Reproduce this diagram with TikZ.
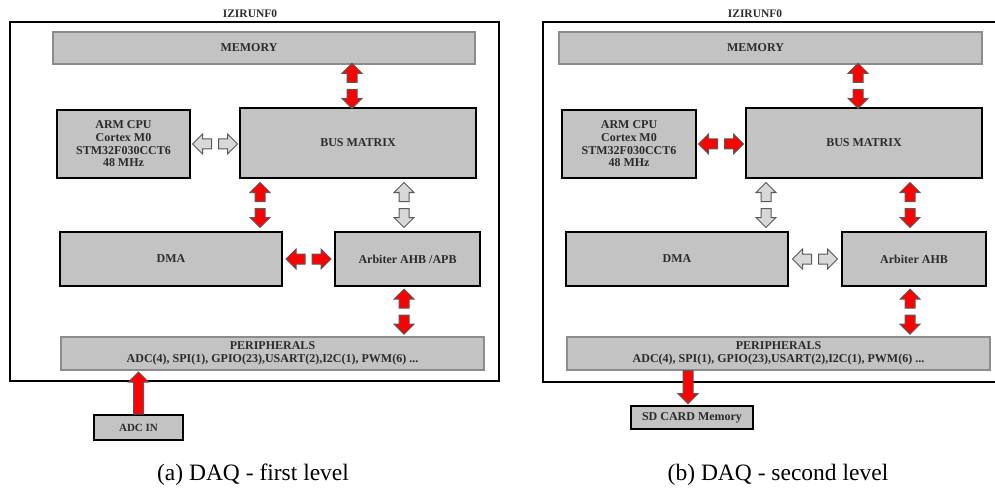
\documentclass[tikz,border=0pt]{standalone}
\usepackage{fontspec}
\setmainfont{Liberation Serif}
\usetikzlibrary{calc}
\definecolor{BoxFill}{HTML}{C3C3C3}
\definecolor{FlatEdge}{HTML}{8C8C8C}
\definecolor{ArrowEdge}{HTML}{5A5A5A}
\definecolor{BusRed}{HTML}{FF0000}
\definecolor{BusGray}{HTML}{D8D8D8}
\definecolor{LabelInk}{HTML}{2B2B2B}
\tikzset{
  every node/.style={font=\bfseries\fontsize{12}{12.7}\selectfont, text=LabelInk},
  block/.style={draw=black, line width=2pt, fill=BoxFill, inner sep=0pt, align=center},
  flatblock/.style={draw=FlatEdge, line width=1.2pt, fill=BoxFill, inner sep=0pt, align=center},
  frame/.style={draw=black, line width=2pt},
  hot/.style={fill=BusRed, draw=ArrowEdge, line width=1pt},
  cold/.style={fill=BusGray, draw=ArrowEdge, line width=1pt},
  caption/.style={font=\fontsize{23.5}{25}\selectfont, text=black},
  pics/blkarrow/.style 2 args={code={
    \draw[#1] (0,-5) -- (#2-10,-5) -- (#2-10,-10) -- (#2,0) -- (#2-10,10) -- (#2-10,5) -- (0,5) -- cycle;
  }},
}
% two block arrows back to back, the first one pointing to #2
\newcommand{\blkpair}[4]{%
  \pic[rotate=#4] at ($(#2)!0.5!(#3)!3.5pt!(#2)$) {blkarrow={#1}{19}};
  \pic[rotate=#4+180] at ($(#2)!0.5!(#3)!3.5pt!(#3)$) {blkarrow={#1}{19}};
}
\begin{document}
\begin{tikzpicture}[x=1pt,y=-1pt]
  \useasboundingbox (0,0) rectangle (995,489);

  % (a) first level
  \node[font=\bfseries\fontsize{11.5}{12}\selectfont] (tita) at (250,14) {IZIRUNF0};
  \draw[frame] (9.5,22.5) rectangle (498.5,381);
  \node[flatblock, minimum width=422, minimum height=32,
        label={[xshift=-15pt]center:MEMORY}] (mema) at (264,48) {};
  \node[block, minimum width=133, minimum height=68] (cpua) at (123.5,144)
    {ARM CPU\\Cortex M0\\STM32F030CCT6\\48 MHz};
  \node[block, minimum width=236, minimum height=70] (busa) at (358,143) {BUS MATRIX};
  \node[block, minimum width=222, minimum height=54] (dmaa) at (171,259) {DMA};
  \node[block, minimum width=145, minimum height=54] (arba) at (407.5,259) {Arbiter AHB /APB};
  \node[flatblock, minimum width=423, minimum height=33] (pera) at (272.5,353.5)
    {PERIPHERALS\\ADC(4), SPI(1), GPIO(23),USART(2),I2C(1), PWM(6) ...};
  \node[block, minimum width=89, minimum height=25,
        font=\bfseries\fontsize{11}{12}\selectfont] (adcin) at (138.5,427.5) {ADC IN};
  \node[caption] (capa) at (253,475) {(a) DAQ - first level};

  \blkpair{hot}{352,0 |- mema.south}{352,0 |- busa.north}{90}
  \blkpair{cold}{cpua.east}{cpua.east -| busa.west}{180}
  \blkpair{hot}{260,0 |- busa.south}{260,0 |- dmaa.north}{90}
  \blkpair{cold}{404,0 |- busa.south}{404,0 |- arba.north}{90}
  \blkpair{hot}{dmaa.east}{dmaa.east -| arba.west}{180}
  \blkpair{hot}{404,0 |- arba.south}{404,0 |- pera.north}{90}
  \pic[rotate=90] at (adcin.north) {blkarrow={hot}{42}};

  % (b) second level
  \node[font=\bfseries\fontsize{11.5}{12}\selectfont] (titb) at (755,14) {IZIRUNF0};
  \draw[frame] (995,22) -- (543,22) -- (543,382) -- (995,382);
  \node[flatblock, minimum width=423, minimum height=32,
        label={[xshift=-15pt]center:MEMORY}] (memb) at (770.5,48) {};
  \node[block, minimum width=134, minimum height=68] (cpub) at (629,144)
    {ARM CPU\\Cortex M0\\STM32F030CCT6\\48 MHz};
  \node[block, minimum width=236, minimum height=70] (busb) at (864,143) {BUS MATRIX};
  \node[block, minimum width=222, minimum height=54] (dmab) at (677,259) {DMA};
  \node[block, minimum width=144, minimum height=54] (arbb) at (914,259) {Arbiter AHB};
  \node[flatblock, minimum width=423, minimum height=33] (perb) at (778.5,353.5)
    {PERIPHERALS\\ADC(4), SPI(1), GPIO(23),USART(2),I2C(1), PWM(6) ...};
  \node[block, minimum width=122, minimum height=23] (sdb) at (692,417.5) {SD CARD Memory};
  \node[caption] (capb) at (778,475) {(b) DAQ - second level};

  \blkpair{hot}{858,0 |- memb.south}{858,0 |- busb.north}{90}
  \blkpair{hot}{cpub.east}{cpub.east -| busb.west}{180}
  \blkpair{cold}{766,0 |- busb.south}{766,0 |- dmab.north}{90}
  \blkpair{hot}{910,0 |- busb.south}{910,0 |- arbb.north}{90}
  \blkpair{cold}{dmab.east}{dmab.east -| arbb.west}{180}
  \blkpair{hot}{910,0 |- arbb.south}{910,0 |- perb.north}{90}
  \pic[rotate=-90] at (688,0 |- perb.south) {blkarrow={hot}{33}};
\end{tikzpicture}
\end{document}
